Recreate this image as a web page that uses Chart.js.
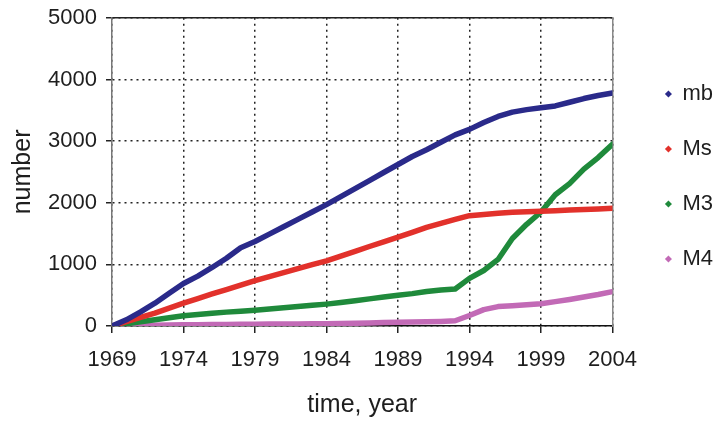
<!DOCTYPE html>
<html>
<head>
<meta charset="utf-8">
<script src="https://cdn.jsdelivr.net/npm/chart.js@4/dist/chart.umd.min.js"></script>
<style>
  html, body { margin: 0; padding: 0; background: #ffffff; }
  #wrap { width: 723px; height: 424px; position: relative; }
</style>
</head>
<body>
<div id="wrap"><canvas id="chart"></canvas></div>
<script>
// Cumulative counts per year, 1969–2004
const years = [1969,1970,1971,1972,1973,1974,1975,1976,1977,1978,1979,1980,1981,1982,1983,1984,1985,1986,1987,1988,1989,1990,1991,1992,1993,1994,1995,1996,1997,1998,1999,2000,2001,2002,2003,2004];
const mb = [0,100,230,370,530,690,810,950,1100,1270,1370,1490,1610,1730,1850,1970,2100,2230,2360,2490,2620,2750,2860,2980,3100,3190,3300,3400,3470,3510,3540,3570,3630,3690,3740,3780];
const Ms = [0,70,140,210,290,370,445,520,590,665,735,800,865,930,995,1057,1135,1210,1290,1365,1440,1520,1600,1665,1730,1790,1810,1830,1845,1855,1862,1870,1880,1890,1900,1910];
const M3 = [0,35,70,100,135,165,185,205,225,240,255,275,295,315,335,355,380,410,440,470,500,525,560,585,600,773,900,1080,1420,1650,1850,2130,2310,2546,2733,2950];
const M4 = [0,5,10,14,17,20,22,24,26,28,30,31,32,33,35,37,40,44,50,55,60,65,70,75,85,170,265,315,330,345,360,395,430,470,510,558];

const seriesNames = ['mb', 'Ms', 'M3', 'M4'];
const xTicks = [1969, 1974, 1979, 1984, 1989, 1994, 1999, 2004];
const yTicks = [0, 1000, 2000, 3000, 4000, 5000];

const colors = ['#2a2a8a', '#e2312b', '#1f8a3b', '#c26ab6'];
const textColor = '#1e1e1e';
const FONT = "'Liberation Sans', Arial, sans-serif";

function lineDataset(label, data, color) {
  return {
    label, data,
    borderColor: color,
    backgroundColor: color,
    borderWidth: 5.5,
    tension: 0,
    borderJoinStyle: 'round',
    borderCapStyle: 'round',
    pointRadius: 0,
    pointHoverRadius: 0,
    pointBorderWidth: 0,
    pointStyle: 'rectRot',
    fill: false
  };
}

new Chart(document.getElementById('chart'), {
  type: 'line',
  data: {
    labels: years,
    datasets: [
      lineDataset(seriesNames[0], mb, colors[0]),
      lineDataset(seriesNames[1], Ms, colors[1]),
      lineDataset(seriesNames[2], M3, colors[2]),
      lineDataset(seriesNames[3], M4, colors[3])
    ]
  },
  options: {
    responsive: true,
    maintainAspectRatio: false,
    animation: false,
    events: [],
    layout: { padding: { top: 16, right: 0, bottom: 0, left: 0 } },
    plugins: {
      tooltip: { enabled: false },
      legend: {
        display: true,
        position: 'right',
        align: 'start',
        title: {
          display: true,
          text: '',
          font: { size: 1, lineHeight: 1 },
          padding: { top: 33, bottom: 0 }
        },
        labels: {
          usePointStyle: true,
          pointStyle: 'rectRot',
          boxWidth: 6,
          boxHeight: 5,
          padding: 33,
          color: textColor,
          font: { family: FONT, size: 22 }
        }
      }
    },
    scales: {
      x: {
        type: 'linear',
        position: 'bottom',
        min: years[0],
        max: years[years.length - 1],
        afterBuildTicks: s => { s.ticks = xTicks.map(v => ({ value: v })); },
        afterFit: s => { s.height = 98; },
        ticks: {
          autoSkip: false,
          maxRotation: 0,
          padding: 14,
          color: textColor,
          font: { family: FONT, size: 22 },
          callback: v => String(v)
        },
        grid: {
          color: '#222',
          lineWidth: 1.5,
          drawTicks: true,
          tickLength: 7,
          tickColor: '#222',
          tickWidth: 1.5
        },
        border: { display: true, color: '#111', width: 1.5, dash: [2, 4] },
        title: {
          display: true,
          text: 'time, year',
          color: textColor,
          font: { family: FONT, size: 25 },
          padding: { top: 0, bottom: 4 }
        }
      },
      x2: {
        type: 'linear',
        position: 'top',
        display: true,
        afterFit: s => { s.height = 0; },
        ticks: { display: false },
        grid: { display: false, drawTicks: false },
        border: { display: true, color: '#222', width: 1.5 }
      },
      y: {
        type: 'linear',
        position: 'left',
        min: 0,
        max: 5000,
        afterBuildTicks: s => { s.ticks = yTicks.map(v => ({ value: v })); },
        afterFit: s => { s.width = 112; },
        ticks: {
          padding: 9,
          color: textColor,
          font: { family: FONT, size: 22, lineHeight: 0.8 },
          callback: v => String(v)
        },
        grid: {
          color: '#222',
          lineWidth: 1.5,
          drawTicks: true,
          tickLength: 6,
          tickColor: '#222',
          tickWidth: 1.5
        },
        border: { display: true, color: '#777', width: 1.5, dash: [2, 4] },
        title: {
          display: true,
          text: 'number',
          color: textColor,
          font: { family: FONT, size: 25 },
          padding: { top: 8, bottom: 0 }
        }
      },
      y2: {
        type: 'linear',
        position: 'right',
        display: true,
        afterFit: s => { s.width = 20; },
        ticks: { display: false },
        grid: { display: false, drawTicks: false },
        border: { display: true, color: '#888', width: 1.5 }
      }
    }
  }
});
</script>
</body>
</html>
